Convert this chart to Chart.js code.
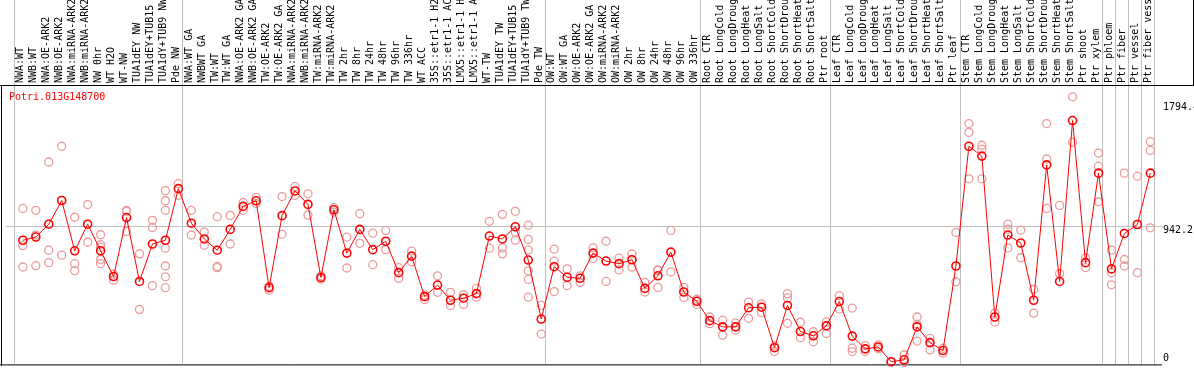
<!DOCTYPE html>
<html>
<head>
<meta charset="utf-8">
<script src="https://cdn.jsdelivr.net/npm/chart.js@4.4.0/dist/chart.umd.min.js"></script>
<style>
  html, body { margin: 0; padding: 0; background: #fff; }
  canvas { display: block; }
</style>
</head>
<body>
<canvas id="exprChart" width="1194" height="370"></canvas>
<script>
// ------------------- Data -------------------
const geneName = "Potri.013G148700";

const categories = [
  "NWA:WT", "NWB:WT", "NWA:OE-ARK2", "NWB:OE-ARK2", "NWA:miRNA-ARK2", "NWB:miRNA-ARK2",
  "NW 0hr", "WT H2O", "WT-NW", "TUA1dEY NW", "TUA1dEY+TUB15 NW", "TUA1dY+TUB9 NW", "Pde NW",
  "NWA:WT GA", "NWBWT GA", "TW:WT", "TW:WT GA", "NWA:OE-ARK2 GA", "NWB:OE-ARK2 GA",
  "TW:OE-ARK2", "TW:OE-ARK2 GA", "NWA:miRNA-ARK2 GA", "NWB:miRNA-ARK2 GA", "TW:miRNA-ARK2",
  "TW:miRNA-ARK2 GA", "TW 2hr", "TW 8hr", "TW 24hr", "TW 48hr", "TW 96hr", "TW 336hr",
  "WT ACC", "35S::etr1-1 H2O", "35S::etr1-1 ACC", "LMX5::etr1-1 H2O", "LMX5::etr1-1 ACC",
  "WT-TW", "TUA1dEY TW", "TUA1dEY+TUB15 TW", "TUA1dY+TUB9 TW", "Pde TW",
  "OW:WT", "OW:WT GA", "OW:OE-ARK2", "OW:OE-ARK2 GA", "OW:miRNA-ARK2", "OW:miRNA-ARK2 GA",
  "OW 2hr", "OW 8hr", "OW 24hr", "OW 48hr", "OW 96hr", "OW 336hr",
  "Root CTR", "Root LongCold", "Root LongDrought", "Root LongHeat", "Root LongSalt",
  "Root ShortCold", "Root ShortDrought", "Root ShortHeat", "Root ShortSalt", "Ptr root",
  "Leaf CTR", "Leaf LongCold", "Leaf LongDrought", "Leaf LongHeat", "Leaf LongSalt",
  "Leaf ShortCold", "Leaf ShortDrought", "Leaf ShortHeat", "Leaf ShortSalt", "Ptr leaf",
  "Stem CTR", "Stem LongCold", "Stem LongDrought", "Stem LongHeat", "Stem LongSalt",
  "Stem ShortCold", "Stem ShortDrought", "Stem ShortHeat", "Stem ShortSalt", "Ptr shoot",
  "Ptr xylem", "Ptr phloem", "Ptr fiber", "Ptr vessel", "Ptr fiber vessel"
];

const meanValues = [
  845, 867, 956, 1120, 772, 956, 772, 594, 1002, 560, 819, 845, 1202,
  963, 854, 776, 920, 1079, 1118, 517, 1015, 1186, 1093, 587, 1056, 756, 920, 780, 838,
  621, 735, 455, 535, 430, 444, 476, 874, 854, 938, 708, 300,
  662, 589, 582, 756, 701, 683, 710, 512, 599, 763, 487, 423,
  289, 246, 246, 378, 382, 102, 394, 214, 184, 253,
  421, 182, 94, 107, 5, 18, 246, 137, 82, 667,
  1495, 1427, 314, 881, 826, 430, 1366, 560, 1673, 690,
  1309, 647, 892, 954, 1309
];

const replicateValues = [
  [1065, 808, 660], [1052, 881, 669], [1386, 776, 690], [1495, 742], [1004, 683, 635],
  [1092, 831], [883, 815, 797, 712, 683], [610, 569], [1052, 1045, 906], [751, 367],
  [983, 933, 531], [1188, 1118, 1052, 790, 667, 592, 517], [1236, 1156],
  [1052, 881], [901, 810], [1008, 664, 655], [1017, 819], [1106, 1052], [1142, 1099],
  [526, 500], [1147, 886], [1217, 1156], [1166, 1019], [599, 576], [1072, 1040],
  [867, 653], [1029, 824], [894, 676], [913, 780], [655, 582], [770, 696], [466, 435],
  [599, 485], [485, 394], [469, 401], [512, 451], [976, 790], [1024, 792, 751],
  [1045, 901, 845], [949, 851, 778, 633, 574, 451], [394, 196],
  [783, 701, 490], [647, 531], [599, 553], [792, 719], [838, 560], [722, 640], [751, 660],
  [553, 487], [640, 519, 635], [913, 626], [519, 449], [437, 401],
  [314, 268], [292, 189], [273, 223], [417, 305], [405, 346], [114, 75], [476, 446, 271],
  [278, 171], [212, 143], [280, 200],
  [462, 369], [376, 98, 75], [116, 75], [121, 94], [2], [53, 0], [314, 264, 148],
  [166, 87], [98, 64], [899, 558],
  [1652, 1591, 1270], [1502, 1475, 1270], [341, 280], [956, 922, 792], [915, 724],
  [505, 341], [1652, 1407, 1065], [1086, 615], [1837, 1523], [724, 655],
  [1448, 1357, 1111], [776, 621, 537], [1309, 712, 667], [1288, 621], [1527, 1466, 931]
];

const yTickValues = [0, 942.2, 1794.4];
const groupBreaks = [0, 13, 41, 53, 63, 73, 84, 85, 86, 87, 88]; // category index where a gridline starts

// ------------------- Helper Functions -------------------

function buildReplicatePoints() {
  const pts = [];
  replicateValues.forEach((reps, i) => {
    reps.forEach((v) => pts.push({ x: i, y: v }));
  });
  return pts;
}

const mono = '10px "DejaVu Sans Mono", "Liberation Mono", monospace';

const decorPlugin = {
  id: "decor",
  beforeDatasetsDraw(chart) {
    const ctx = chart.ctx;
    const xs = chart.scales.x;
    const ys = chart.scales.y;
    const area = chart.chartArea;
    ctx.save();
    ctx.lineWidth = 1;

    // vertical group lines, through header and plot
    ctx.strokeStyle = "#c0c0c0";
    groupBreaks.forEach((k) => {
      const px = Math.round(xs.getPixelForValue(k - 0.715)) + 0.5;
      ctx.beginPath();
      ctx.moveTo(px, 0);
      ctx.lineTo(px, area.bottom);
      ctx.stroke();
    });

    // middle gridline
    const gy = Math.round(ys.getPixelForValue(yTickValues[1])) + 0.5;
    ctx.beginPath();
    ctx.moveTo(area.left, gy);
    ctx.lineTo(area.right + 1, gy);
    ctx.stroke();

    // frame lines
    ctx.strokeStyle = "#000000";
    ctx.beginPath();
    ctx.moveTo(0, area.top - 0.5);
    ctx.lineTo(chart.width, area.top - 0.5);
    ctx.moveTo(1.5, area.top);
    ctx.lineTo(1.5, area.bottom + 1);
    ctx.moveTo(0, area.bottom + 0.5);
    ctx.lineTo(area.right, area.bottom + 0.5);
    ctx.moveTo(chart.width - 0.5, 0);
    ctx.lineTo(chart.width - 0.5, area.top);
    ctx.stroke();
    ctx.restore();
  },
  afterDraw(chart) {
    const ctx = chart.ctx;
    const xs = chart.scales.x;
    const ys = chart.scales.y;
    const area = chart.chartArea;
    ctx.save();
    ctx.font = mono;

    // category labels, rotated
    ctx.fillStyle = "#000000";
    ctx.textAlign = "left";
    ctx.textBaseline = "middle";
    categories.forEach((label, i) => {
      const px = xs.getPixelForValue(i) - 2.3;
      ctx.save();
      ctx.translate(px, area.top - 3);
      ctx.rotate(-Math.PI / 2);
      ctx.fillText(label, 0, 0);
      ctx.restore();
    });

    // y tick labels on the right
    yTickValues.forEach((v) => {
      let py = ys.getPixelForValue(v) + 4;
      if (py > area.bottom - 6) py = area.bottom - 6;
      const txt = v === 0 ? "0" : v.toFixed(1);
      ctx.fillText(txt, area.right + 1, py);
    });

    // gene name
    ctx.fillStyle = "#ff0000";
    ctx.textBaseline = "top";
    ctx.fillText(geneName, 9, area.top + 6);
    ctx.restore();
  }
};

document.addEventListener("DOMContentLoaded", function () {
  new Chart(document.getElementById("exprChart"), {
    type: "line",
    data: {
      datasets: [
        {
          label: "mean",
          data: meanValues.map((v, i) => ({ x: i, y: v })),
          borderColor: "#ff0000",
          borderWidth: 1,
          pointRadius: 4,
          pointBorderWidth: 1.6,
          pointBorderColor: "#ff0000",
          pointBackgroundColor: "rgba(0,0,0,0)",
          tension: 0,
          clip: false,
        },
        {
          label: "replicates",
          type: "scatter",
          data: buildReplicatePoints(),
          showLine: false,
          pointRadius: 4,
          pointBorderWidth: 1.3,
          pointBorderColor: "#ea9a9a",
          pointBackgroundColor: "rgba(0,0,0,0)",
          clip: false,
        },
      ],
    },
    options: {
      responsive: false,
      animation: false,
      devicePixelRatio: 1,
      layout: { padding: { left: 2, right: 32, top: 86, bottom: 2 } },
      scales: {
        x: { type: "linear", display: false, min: -1.331, max: 87.9 },
        y: { type: "linear", display: false, min: -13.66, max: 1911.8 },
      },
      plugins: {
        legend: { display: false },
        tooltip: { enabled: false },
      },
    },
    plugins: [decorPlugin],
  });
});
</script>
</body>
</html>
